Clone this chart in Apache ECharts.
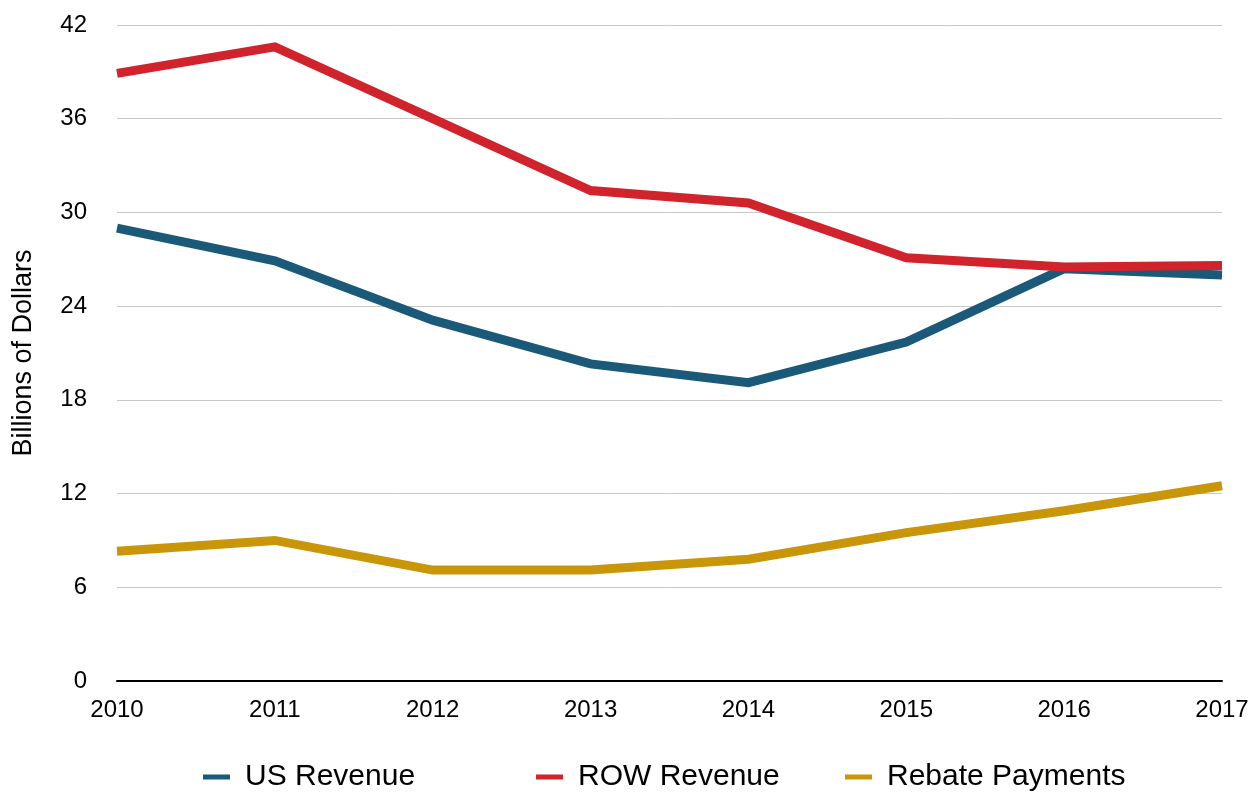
<!DOCTYPE html>
<html>
<head>
<meta charset="utf-8">
<script src="https://cdn.jsdelivr.net/npm/echarts@6/dist/echarts.min.js"></script>
<style>
  html, body { margin: 0; padding: 0; background: #fff; }
  #chart { width: 1256px; height: 793px; }
</style>
</head>
<body>
<div id="chart"></div>
<script>
// data
const years = ['2010', '2011', '2012', '2013', '2014', '2015', '2016', '2017']
const usRevenue = [29.0, 26.9, 23.1, 20.3, 19.1, 21.7, 26.4, 26.0]
const rowRevenue = [38.9, 40.6, 36.0, 31.4, 30.6, 27.1, 26.5, 26.6]
const rebatePayments = [8.3, 9.0, 7.1, 7.1, 7.8, 9.5, 10.9, 12.5]
const seriesNames = ['US Revenue', 'ROW Revenue', 'Rebate Payments']
const colors = ['#1a5a78', '#d0232b', '#c9960a']

const font = '"Liberation Sans", Arial, Helvetica, sans-serif'
const legendLefts = [203, 536, 845]

const chart = echarts.init(document.getElementById('chart'))

function lineSeries(name, data, color) {
  return {
    name: name,
    type: 'line',
    data: data,
    symbol: 'none',
    color: color,
    lineStyle: { color: color, width: 9, join: 'miter' },
    animation: false
  }
}

// one legend per item so the spacing matches the reference
const legends = seriesNames.map((name, i) => ({
  top: 762,
  left: legendLefts[i],
  padding: 0,
  itemWidth: 27,
  itemHeight: 5,
  icon: 'rect',
  data: [name],
  textStyle: { fontSize: 30, color: '#000', fontFamily: font, padding: [0, 0, 0, 10] }
}))

chart.setOption({
  textStyle: { fontFamily: font },
  grid: { left: 117, right: 34, top: 25, bottom: 112 },
  legend: legends,
  xAxis: {
    type: 'category',
    data: years,
    boundaryGap: false,
    axisLine: { lineStyle: { color: '#000', width: 2 } },
    axisTick: { show: false },
    axisLabel: { color: '#000', fontSize: 24, margin: 17, fontFamily: font }
  },
  yAxis: {
    type: 'value',
    min: 0,
    max: 42,
    interval: 6,
    name: 'Billions of Dollars',
    nameLocation: 'middle',
    nameGap: 80,
    nameTextStyle: { fontSize: 27, color: '#000', fontFamily: font },
    axisLine: { show: false },
    axisTick: { show: false },
    axisLabel: { color: '#000', fontSize: 24, margin: 30, fontFamily: font },
    splitLine: { lineStyle: { color: '#c8c8c8', width: 1 } }
  },
  series: [
    lineSeries(seriesNames[0], usRevenue, colors[0]),
    lineSeries(seriesNames[1], rowRevenue, colors[1]),
    lineSeries(seriesNames[2], rebatePayments, colors[2])
  ]
})
</script>
</body>
</html>
